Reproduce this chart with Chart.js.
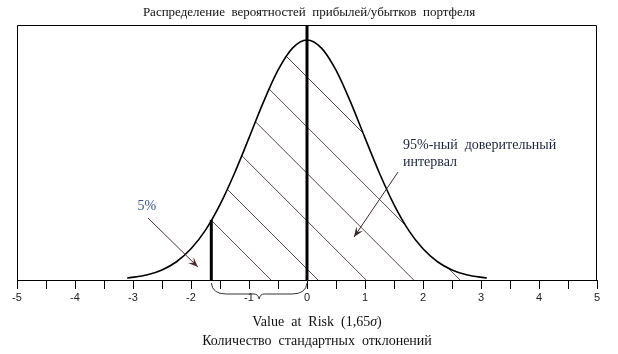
<!DOCTYPE html>
<html><head><meta charset="utf-8">
<script src="https://cdn.jsdelivr.net/npm/chart.js@4.4.1/dist/chart.umd.min.js"></script>
<style>html,body{margin:0;padding:0;background:#fff;}canvas{display:block;}</style>
</head><body>
<canvas id="c" width="618" height="354"></canvas>
<script>
// ---- data ----
const curveX = [-3.1,-2.75,-2.5,-2.25,-2,-1.75,-1.5,-1.25,-1,-0.75,-0.5,-0.25,0,0.25,0.5,0.75,1,1.25,1.5,1.75,2,2.25,2.5,2.75,3.1];
const curveY = [0.008,0.022,0.042,0.076,0.130,0.208,0.314,0.445,0.592,0.742,0.874,0.966,1.0,0.966,0.874,0.742,0.592,0.445,0.314,0.208,0.130,0.076,0.042,0.022,0.008];
const varX = -1.65;
const varLineY = [0, 0.25];
const zeroX = 0;
const zeroLineY = [0, 1.0625];
const xMin = -5, xMax = 5, xStep = 0.5;
const yMin = 0, yMax = 1.0625;
const hatchIntercepts = [-0.62, 0.19, 1.02, 1.84, 2.64, 3.5];
const titleText = 'Распределение  вероятностей  прибылей/убытков  портфеля';
const ciText = ['95%-ный  доверительный', 'интервал'];
const tailText = '5%';
const varText = 'Value  at  Risk  (1,65';
const sigmaText = 'σ';
const xTitleText = 'Количество  стандартных  отклонений';

// ---- annotation placement (data coordinates) ----
const notes = {
  ciLabel: {x: 1.655, y: [0.5625, 0.49]},
  ciArrow: {from: [1.57, 0.45], to: [0.81, 0.179]},
  tailLabel: {x: -2.76, y: 0.305},
  tailArrow: {from: [-2.74, 0.258], to: [-1.88, 0.054]},
  braceFrom: varX, braceTo: zeroX
};

const SERIF = "'Liberation Serif', 'DejaVu Serif', serif";
const SANS = "'Liberation Sans', Arial, sans-serif";

function arrow(ctx, x1, y1, x2, y2, color) {
  ctx.save();
  ctx.strokeStyle = color; ctx.fillStyle = color; ctx.lineWidth = 1;
  ctx.beginPath(); ctx.moveTo(x1, y1); ctx.lineTo(x2, y2); ctx.stroke();
  const a = Math.atan2(y2 - y1, x2 - x1), L = 10, W = 4;
  ctx.beginPath();
  ctx.moveTo(x2, y2);
  ctx.lineTo(x2 - L * Math.cos(a) + W * Math.sin(a), y2 - L * Math.sin(a) - W * Math.cos(a));
  ctx.lineTo(x2 - 0.6 * L * Math.cos(a), y2 - 0.6 * L * Math.sin(a));
  ctx.lineTo(x2 - L * Math.cos(a) - W * Math.sin(a), y2 - L * Math.sin(a) + W * Math.cos(a));
  ctx.closePath(); ctx.fill();
  ctx.restore();
}

const decor = {
  id: 'decor',
  beforeDatasetsDraw(chart) {
    const ctx = chart.ctx, a = chart.chartArea;
    const sx = chart.scales.x;
    const meta = chart.getDatasetMeta(0);
    const line = meta.dataset;
    ctx.save();
    const xv = sx.getPixelForValue(varX);
    ctx.beginPath(); ctx.rect(xv, a.top, a.right - xv, a.bottom - a.top); ctx.clip();
    ctx.beginPath();
    if (line && typeof line.path === 'function') {
      if (typeof line.updateControlPoints === 'function') line.updateControlPoints(a, 'x');
      line.path(ctx);
    } else {
      meta.data.forEach((p, i) => i ? ctx.lineTo(p.x, p.y) : ctx.moveTo(p.x, p.y));
    }
    const pts = meta.data;
    ctx.lineTo(pts[pts.length - 1].x, a.bottom);
    ctx.lineTo(pts[0].x, a.bottom);
    ctx.closePath();
    ctx.clip();
    ctx.strokeStyle = '#5a4848'; ctx.lineWidth = 1;
    const H = a.bottom - a.top;
    hatchIntercepts.forEach(v => {
      const p = sx.getPixelForValue(v);
      ctx.beginPath(); ctx.moveTo(p, a.bottom); ctx.lineTo(p - H, a.bottom - H); ctx.stroke();
    });
    ctx.restore();
  },
  afterDraw(chart) {
    const ctx = chart.ctx, a = chart.chartArea;
    const sx = chart.scales.x, sy = chart.scales.y;
    const X = v => sx.getPixelForValue(v), Y = v => sy.getPixelForValue(v);
    ctx.save();
    // frame
    ctx.strokeStyle = '#000'; ctx.lineWidth = 1;
    ctx.beginPath();
    const l = Math.round(a.left) + 0.5, r = Math.round(a.right) - 0.5, t = Math.round(a.top) + 0.5, b = Math.round(a.bottom);
    ctx.moveTo(l, b); ctx.lineTo(l, t); ctx.lineTo(r, t); ctx.lineTo(r, b);
    ctx.stroke();
    // title
    ctx.fillStyle = '#111';
    ctx.font = '13px ' + SERIF;
    ctx.textAlign = 'center'; ctx.textBaseline = 'middle';
    ctx.fillText(titleText, chart.width / 2, 13);
    // CI label
    ctx.textAlign = 'left';
    ctx.font = '14px ' + SERIF;
    ctx.fillStyle = '#1c2438';
    ciText.forEach((s, i) => ctx.fillText(s, X(notes.ciLabel.x), Y(notes.ciLabel.y[i])));
    // tail label
    ctx.textAlign = 'center';
    ctx.fillStyle = '#3a557e';
    ctx.fillText(tailText, X(notes.tailLabel.x), Y(notes.tailLabel.y));
    // arrows
    arrow(ctx, X(notes.ciArrow.from[0]), Y(notes.ciArrow.from[1]), X(notes.ciArrow.to[0]), Y(notes.ciArrow.to[1]), '#3a2a2a');
    arrow(ctx, X(notes.tailArrow.from[0]), Y(notes.tailArrow.from[1]), X(notes.tailArrow.to[0]), Y(notes.tailArrow.to[1]), '#4a3030');
    // brace under axis
    const x0 = X(notes.braceFrom), x1 = X(notes.braceTo), m = (x0 + x1) / 2;
    const yt = a.bottom + 3, ym = a.bottom + 14, yb = a.bottom + 19, rr = 10;
    ctx.strokeStyle = '#333'; ctx.lineWidth = 1;
    ctx.beginPath();
    ctx.moveTo(x0, yt);
    ctx.quadraticCurveTo(x0 + 1, ym, x0 + rr * 1.5, ym);
    ctx.lineTo(m - 5, ym);
    ctx.quadraticCurveTo(m - 1, ym, m, yb);
    ctx.quadraticCurveTo(m + 1, ym, m + 5, ym);
    ctx.lineTo(x1 - rr * 1.5, ym);
    ctx.quadraticCurveTo(x1 - 1, ym, x1, yt);
    ctx.stroke();
    // bottom texts
    ctx.fillStyle = '#111';
    ctx.font = '14px ' + SERIF;
    ctx.textAlign = 'left';
    const w1 = ctx.measureText(varText).width;
    ctx.font = 'italic 14px ' + SERIF;
    const w2 = ctx.measureText(sigmaText).width;
    ctx.font = '14px ' + SERIF;
    const w3 = ctx.measureText(')').width;
    const cx = (a.left + a.right) / 2 + 10;
    let sx0 = cx - (w1 + w2 + w3) / 2;
    ctx.fillText(varText, sx0, 322);
    ctx.font = 'italic 14px ' + SERIF;
    ctx.fillText(sigmaText, sx0 + w1, 322);
    ctx.font = '14px ' + SERIF;
    ctx.fillText(')', sx0 + w1 + w2, 322);
    ctx.textAlign = 'center';
    ctx.fillText(xTitleText, cx, 341);
    ctx.restore();
  }
};

const toPts = (xs, ys) => xs.map((x, i) => ({x, y: ys[i]}));

new Chart(document.getElementById('c'), {
  type: 'line',
  data: {
    datasets: [
      {data: toPts(curveX, curveY), borderColor: '#000', borderWidth: 1.6, pointRadius: 0, cubicInterpolationMode: 'monotone', fill: false},
      {data: toPts([varX, varX], varLineY), borderColor: '#000', borderWidth: 3, pointRadius: 0, fill: false},
      {data: toPts([zeroX, zeroX], zeroLineY), borderColor: '#000', borderWidth: 3, pointRadius: 0, fill: false}
    ]
  },
  options: {
    responsive: false,
    animation: false,
    devicePixelRatio: 1,
    layout: {padding: {left: 17, right: 21, top: 25, bottom: 0}},
    plugins: {legend: {display: false}, tooltip: {enabled: false}, title: {display: false}},
    scales: {
      x: {
        type: 'linear', min: xMin, max: xMax,
        afterFit: s => { s.height = 74; },
        grid: {drawOnChartArea: false, drawTicks: true, tickLength: 9, color: '#000', lineWidth: 1},
        border: {display: true, color: '#000', width: 1},
        ticks: {
          stepSize: xStep, autoSkip: false, maxRotation: 0, padding: 2,
          color: '#222', font: {family: SANS, size: 11},
          callback: v => Number.isInteger(v) ? String(v) : ''
        }
      },
      y: {type: 'linear', min: yMin, max: yMax, display: false}
    }
  },
  plugins: [decor]
});
</script>
</body></html>
